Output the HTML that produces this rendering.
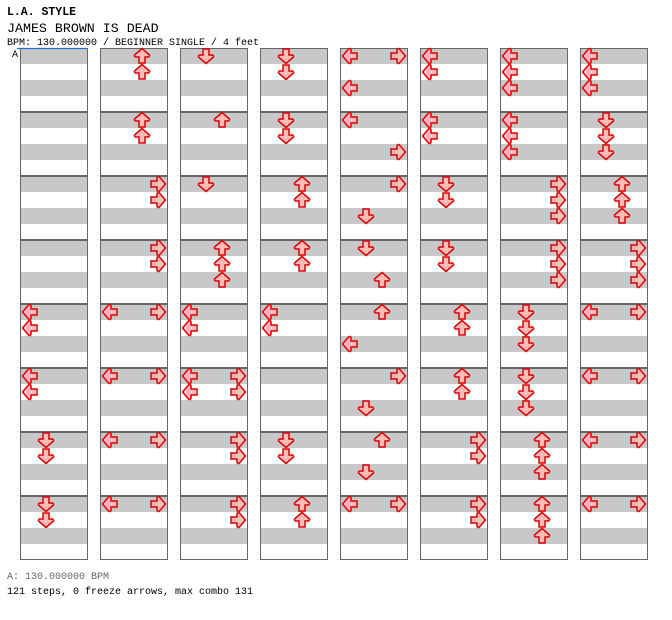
<!DOCTYPE html>
<html><head><meta charset="utf-8"><style>
body{margin:0;background:#fff;width:672px;height:620px;overflow:hidden;font-family:"Liberation Mono",monospace;}
svg{position:absolute;left:0;top:0}
</style></head><body>
<svg id="c" width="672" height="620">
<text x="7" y="15" font-size="11.5" font-weight="bold" font-family="Liberation Mono, monospace">L.A. STYLE</text>
<text x="7" y="32" font-size="13.3" font-family="Liberation Mono, monospace">JAMES BROWN IS DEAD</text>
<text x="7" y="45" font-size="10" font-family="Liberation Mono, monospace">BPM: 130.000000 / BEGINNER SINGLE / 4 feet</text>
<text x="12" y="57" font-size="10" font-family="Liberation Mono, monospace">A</text>
<text x="7" y="579" font-size="10" fill="#666" font-family="Liberation Mono, monospace">A: 130.000000 BPM</text>
<text x="7" y="594" font-size="10" font-family="Liberation Mono, monospace">121 steps, 0 freeze arrows, max combo 131</text>
</svg>
<script>
// measures[col][row] = list of [beat, lane]  lanes: 0=L 1=D 2=U 3=R
const measures = [
 [[],[],[],[],[[0,0],[1,0]],[[0,0],[1,0]],[[0,1],[1,1]],[[0,1],[1,1]]],
 [[[0,2],[1,2]],[[0,2],[1,2]],[[0,3],[1,3]],[[0,3],[1,3]],[[0,0],[0,3]],[[0,0],[0,3]],[[0,0],[0,3]],[[0,0],[0,3]]],
 [[[0,1]],[[0,2]],[[0,1]],[[0,2],[1,2],[2,2]],[[0,0],[1,0]],[[0,0],[0,3],[1,0],[1,3]],[[0,3],[1,3]],[[0,3],[1,3]]],
 [[[0,1],[1,1]],[[0,1],[1,1]],[[0,2],[1,2]],[[0,2],[1,2]],[[0,0],[1,0]],[],[[0,1],[1,1]],[[0,2],[1,2]]],
 [[[0,0],[0,3],[2,0]],[[0,0],[2,3]],[[0,3],[2,1]],[[0,1],[2,2]],[[0,2],[2,0]],[[0,3],[2,1]],[[0,2],[2,1]],[[0,0],[0,3]]],
 [[[0,0],[1,0]],[[0,0],[1,0]],[[0,1],[1,1]],[[0,1],[1,1]],[[0,2],[1,2]],[[0,2],[1,2]],[[0,3],[1,3]],[[0,3],[1,3]]],
 [[[0,0],[1,0],[2,0]],[[0,0],[1,0],[2,0]],[[0,3],[1,3],[2,3]],[[0,3],[1,3],[2,3]],[[0,1],[1,1],[2,1]],[[0,1],[1,1],[2,1]],[[0,2],[1,2],[2,2]],[[0,2],[1,2],[2,2]]],
 [[[0,0],[1,0],[2,0]],[[0,1],[1,1],[2,1]],[[0,2],[1,2],[2,2]],[[0,3],[1,3],[2,3]],[[0,0],[0,3]],[[0,0],[0,3]],[[0,0],[0,3]],[[0,0],[0,3]]]
];
const laneNames = ['left','down','up','right'];
const NS='http://www.w3.org/2000/svg';
const svg=document.getElementById('c');
const colX=c=>20+80*c, rowY=r=>48+64*r, beatY=b=>8+16*b, laneX=l=>10+16*l;
const rot=[0,-90,90,180];
function mk(t,a){const e=document.createElementNS(NS,t);for(const k in a)e.setAttribute(k,a[k]);return e;}
measures.forEach((col,ci)=>col.forEach((notes,ri)=>{
  const g=mk('g',{transform:`translate(${colX(ci)},${rowY(ri)})`});
  
  
  g.appendChild(mk('rect',{x:0,y:0,width:68,height:64,fill:'#fff'}));
  for(let s=0;s<2;s++)g.appendChild(mk('rect',{x:0,y:32*s,width:68,height:16,fill:'#c8c8c8'}));
  g.appendChild(mk('rect',{x:0.5,y:0.5,width:67,height:63,fill:'none',stroke:'#666','stroke-width':1}));
  notes.forEach(([b,l])=>{
    const p=mk('path',{d:'M-7.5 0L-1-7.5L0-7.5L1-6.5L1-3L7-3L7 3L1 3L1 6.5L0 7.5L-1 7.5Z',fill:'#ffbcbc',stroke:'#e00000','stroke-width':1.5,'stroke-linejoin':'miter',
      transform:`translate(${laneX(l)},${beatY(b)}) rotate(${rot[l]})`});
    
    
    g.appendChild(p);
  });
  svg.appendChild(g);
}));
const bl=mk('line',{x1:17,y1:48.5,x2:88,y2:48.5,stroke:'#1e6fd0','stroke-width':1.2});


svg.appendChild(bl);
</script>
</body></html>
